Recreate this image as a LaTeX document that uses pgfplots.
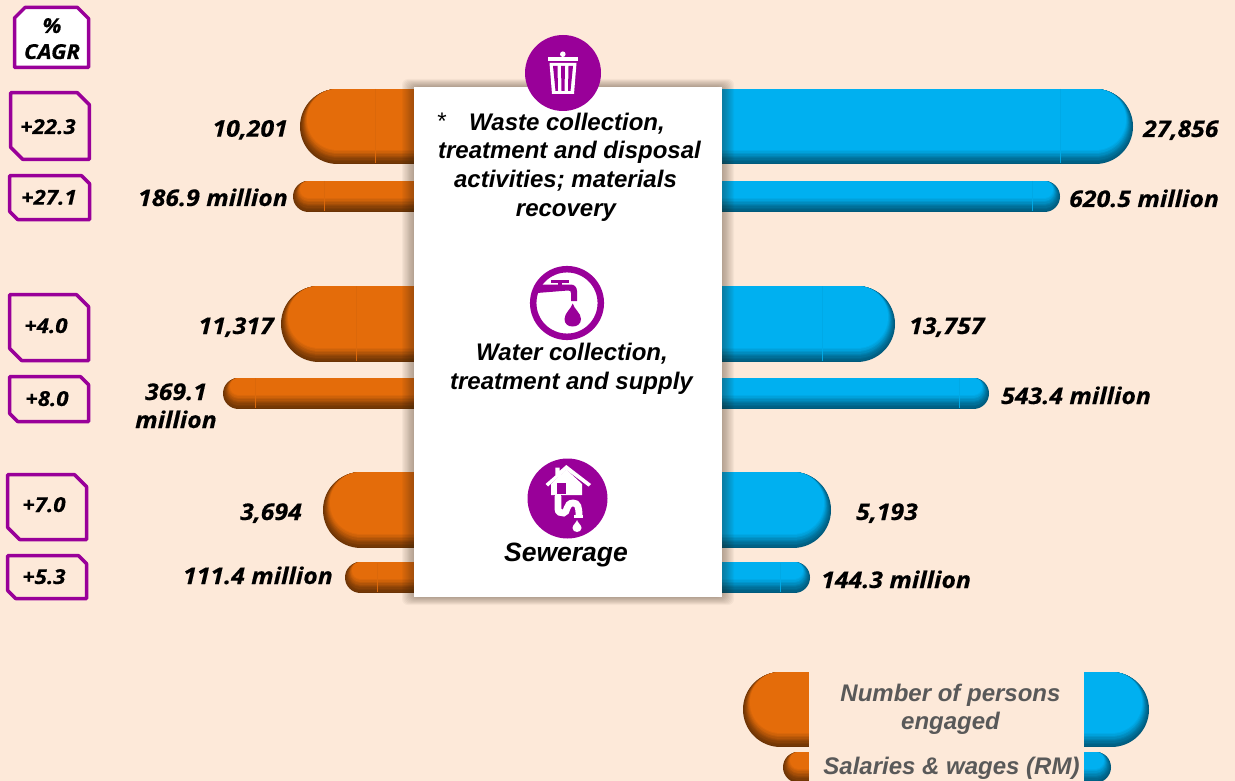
\documentclass[border=0pt]{standalone}
\usepackage{pgfplots}
\pgfplotsset{compat=1.18}
\usepackage{fontspec}
\setmainfont{Liberation Sans}
\newfontfamily\vf{Open Sans}[FakeStretch=1.08,FakeBold=0.4]
\definecolor{bg}{HTML}{FDE9D9}
\definecolor{or}{HTML}{E46C0A}
\definecolor{ord}{HTML}{6B3305}
\definecolor{bl}{HTML}{00B0F0}
\definecolor{bld}{HTML}{005A7C}
\definecolor{pu}{HTML}{990099}
\definecolor{lg}{HTML}{595959}
\newcommand\lay[8]{\addplot[no marks,line cap=round,line width={(#6-2*#7)*1pt},yshift=#7pt,color=#1!#8!#2] coordinates {(#3,#5) (#4,#5)};}
% colour, dark colour, x from, x to, y, height
\newcommand\pill[6]{%
 \lay{#1}{#2}{#3}{#4}{#5}{#6}{0}{0}
 \lay{#1}{#2}{#3}{#4}{#5}{#6}{0.7}{8}
 \lay{#1}{#2}{#3}{#4}{#5}{#6}{1.4}{16}
 \lay{#1}{#2}{#3}{#4}{#5}{#6}{2.1}{25}
 \lay{#1}{#2}{#3}{#4}{#5}{#6}{2.8}{35}
 \lay{#1}{#2}{#3}{#4}{#5}{#6}{3.5}{46}
 \lay{#1}{#2}{#3}{#4}{#5}{#6}{4.2}{58}
 \lay{#1}{#2}{#3}{#4}{#5}{#6}{4.9}{70}
 \lay{#1}{#2}{#3}{#4}{#5}{#6}{5.6}{82}
 \lay{#1}{#2}{#3}{#4}{#5}{#6}{6.3}{92}
 \lay{#1}{#2}{#3}{#4}{#5}{#6}{7.0}{100}
}
\newcommand\seam[4]{\addplot[no marks,line width=0.6pt,color=#1!96!black] coordinates {(#2,#3) (#2,#4)};}
% x0 y0 x1 y1 snip
\newcommand\boxa[5]{\draw[pu,line width=3.5pt,line join=round] (#1,#2) -- (#3-#5,#2) -- (#3,#2+#5) -- (#3,#4) -- (#1+#5,#4) -- (#1,#4-#5) -- cycle;}
\tikzset{val/.style={font=\vf\fontsize{23}{27}\selectfont\bfseries\itshape,inner sep=0pt,text=black},
 pan/.style={font=\fontsize{24}{28}\selectfont\bfseries\itshape,inner sep=0pt,text=black,anchor=base},
 leg/.style={font=\fontsize{24}{28}\selectfont\bfseries\itshape,inner sep=0pt,text=lg,anchor=base},
 cg/.style={font=\vf\fontsize{20.6}{24}\selectfont\bfseries\itshape,inner sep=0pt,text=black,anchor=base}}
\begin{document}
\begin{tikzpicture}
\begin{axis}[x=1pt,y=-1pt,xmin=0,xmax=1235,ymin=0,ymax=781,scale only axis,hide axis,clip=true,
  axis background/.style={fill=bg}]
\addplot[fill=bg,draw=none] coordinates {(0,0) (1235,0) (1235,781) (0,781)} --cycle;
% persons engaged / salaries, left
\pill{or}{ord}{337.5}{500}{126.5}{75}
\pill{or}{ord}{308.5}{500}{196.5}{31}
\pill{or}{ord}{319}{500}{324}{76}
\pill{or}{ord}{238.5}{500}{393.5}{31}
\pill{or}{ord}{361}{500}{510}{76}
\pill{or}{ord}{360.5}{500}{577.5}{31}
% right
\pill{bl}{bld}{650}{1095.5}{126.5}{75}
\pill{bl}{bld}{650}{1044.5}{196.5}{31}
\pill{bl}{bld}{650}{857}{324}{76}
\pill{bl}{bld}{650}{973.5}{393.5}{31}
\pill{bl}{bld}{650}{793}{510}{76}
\pill{bl}{bld}{650}{794.5}{577.5}{31}
\seam{or}{375}{89}{163}
\seam{or}{324}{181}{211}
\seam{or}{356}{286}{361}
\seam{or}{255}{378}{408}
\seam{or}{377}{563}{592}
\seam{bl}{1060}{89}{163}
\seam{bl}{1032}{181}{211}
\seam{bl}{822}{286}{361}
\seam{bl}{959}{378}{408}
\seam{bl}{780}{563}{592}
% legend
\pill{or}{ord}{780.5}{880}{709.5}{75}
\pill{or}{ord}{798.5}{880}{767}{31}
\pill{bl}{bld}{1010}{1111.5}{709.5}{75}
\pill{bl}{bld}{1010}{1095.5}{767}{31}
\addplot[fill=bg,draw=none] coordinates {(809,660) (1084,660) (1084,781) (809,781)} --cycle;
% panel shadow
\pgfplotsinvokeforeach{1,...,10}{\fill[black!75!brown,opacity=0.04,rounded corners=6pt] (414-1.2*#1,87-0.8*#1) rectangle (722+1.2*#1,597+0.8*#1);}
\addplot[fill=white,draw=none] coordinates {(414,87) (722,87) (722,597) (414,597)} --cycle;
% trash icon
\fill[pu] (563,73) circle[radius=38];
\fill[white] (548,57) rectangle (578,61);
\fill[white] (562.8,54.2) circle[radius=2.8];
\fill[white] (549.5,63) -- (576.5,63) -- (574,94) -- (552,94) -- cycle;
\fill[pu] (553,66) -- (557.5,66) -- (558,91) -- (555.5,91) -- cycle;
\fill[pu] (561,66) -- (565,66) -- (564.5,91) -- (561.5,91) -- cycle;
\fill[pu] (568.5,66) -- (573,66) -- (570.5,91) -- (568,91) -- cycle;
% tap icon
\draw[pu,line width=6.5pt] (567,303) circle[radius=33.8];
\fill[pu] (537,284.5) -- (571,284.5) .. controls (574,284.5) and (577,287) .. (577,291) -- (577,301) -- (571,301) -- (571,293) .. controls (571,291) and (570,290.5) .. (568,290.5) -- (537,293) -- cycle;
\fill[pu] (551,279.5) rectangle (569,283);
\fill[pu] (558,279.5) rectangle (562,286);
\fill[pu] (572.7,303.5) .. controls (574,309) and (581,313) .. (581,319) .. controls (581,324) and (577,326.5) .. (572.7,326.5) .. controls (568,326.5) and (564.5,324) .. (564.5,319) .. controls (564.5,313) and (571,309) .. (572.7,303.5) -- cycle;
% sewer icon
\fill[pu] (567.5,498.5) circle[radius=40];
\fill[white] (566.3,465) -- (591,484) -- (588.5,486.5) -- (566.3,470) -- (548,486.5) -- (545.5,484) -- (555.3,475.5) -- (555.3,467.5) -- (559.5,467.5) -- (559.5,471) -- cycle;
\fill[white] (551,484) -- (566.3,469.5) -- (582,484) -- (582,495) -- (551,495) -- cycle;
\fill[pu] (557,483) rectangle (566,494);
\fill[white] (554.7,494) rectangle (561.3,500);
\draw[white,line width=6.8pt] (558,496) -- (558,509) .. controls (558,512.5) and (561,513) .. (563.5,513) .. controls (568,513) and (565.5,503) .. (573,503) .. controls (578,503) and (579,507) .. (579,516);
\fill[white] (574,515) rectangle (582.7,517.8);
\fill[white] (577,520) .. controls (577.8,523) and (581.5,525) .. (581.5,528) .. controls (581.5,530.5) and (579.3,532) .. (577,532) .. controls (574.7,532) and (572.5,530.5) .. (572.5,528) .. controls (572.5,525) and (576.2,523) .. (577,520) -- cycle;
% panel text
\node[font=\fontsize{24}{28}\selectfont\itshape,inner sep=0pt,anchor=base] at (441,130) {*};
\node[pan] at (567,130.7) {Waste collection,};
\node[pan] at (569.5,159) {treatment and disposal};
\node[pan] at (565.5,187.7) {activities; materials};
\node[pan] at (566,216.7) {recovery};
\node[pan] at (572,360) {Water collection,};
\node[pan] at (571.5,389) {treatment and supply};
\node[pan,font=\fontsize{26.5}{30}\selectfont\bfseries\itshape] at (566,561.7) {Sewerage};
% legend text
\node[leg] at (950.5,701.7) {Number of persons};
\node[leg] at (950.5,729.5) {engaged};
\node[leg] at (951.5,774) {Salaries \& wages (RM)};
% values
\node[val,anchor=base east] at (288,136.7) {10,201};
\node[val,anchor=base east] at (288,206) {186.9 million};
\node[val,anchor=base west] at (1143,137) {27,856};
\node[val,anchor=base west] at (1069,207) {620.5 million};
\node[val,anchor=base east] at (274,334) {11,317};
\node[val,anchor=base west] at (909,334) {13,757};
\node[val,anchor=base] at (176,400) {369.1};
\node[val,anchor=base] at (176,428) {million};
\node[val,anchor=base west] at (1001,404) {543.4 million};
\node[val,anchor=base east] at (302,520) {3,694};
\node[val,anchor=base west] at (856,520) {5,193};
\node[val,anchor=base east] at (333,584) {111.4 million};
\node[val,anchor=base west] at (821,588) {144.3 million};
% CAGR boxes
\draw[pu,line width=3.5pt,fill=white,line join=round] (14.5,18) -- (25,7.5) -- (77.5,7.5) -- (88.5,18.5) -- (88.5,67.5) -- (14.5,67.5) -- cycle;
\node[cg] at (52,33) {\%};
\node[cg] at (52,59) {CAGR};
\boxa{10.7}{92.7}{89.3}{159.3}{12}
\boxa{9.7}{175.7}{89.5}{219.5}{8}
\boxa{9.7}{294.7}{88.5}{360.5}{12}
\boxa{9.7}{376.7}{88.5}{421.5}{8}
\boxa{7.7}{474.7}{86.5}{539.5}{12}
\boxa{7.7}{555.7}{86.5}{598.5}{8}
\node[cg] at (48,134) {+22.3};
\node[cg] at (49,204.7) {+27.1};
\node[cg] at (46,333) {+4.0};
\node[cg] at (47,406) {+8.0};
\node[cg] at (44,512) {+7.0};
\node[cg] at (44,584) {+5.3};
\end{axis}
\end{tikzpicture}
\end{document}
